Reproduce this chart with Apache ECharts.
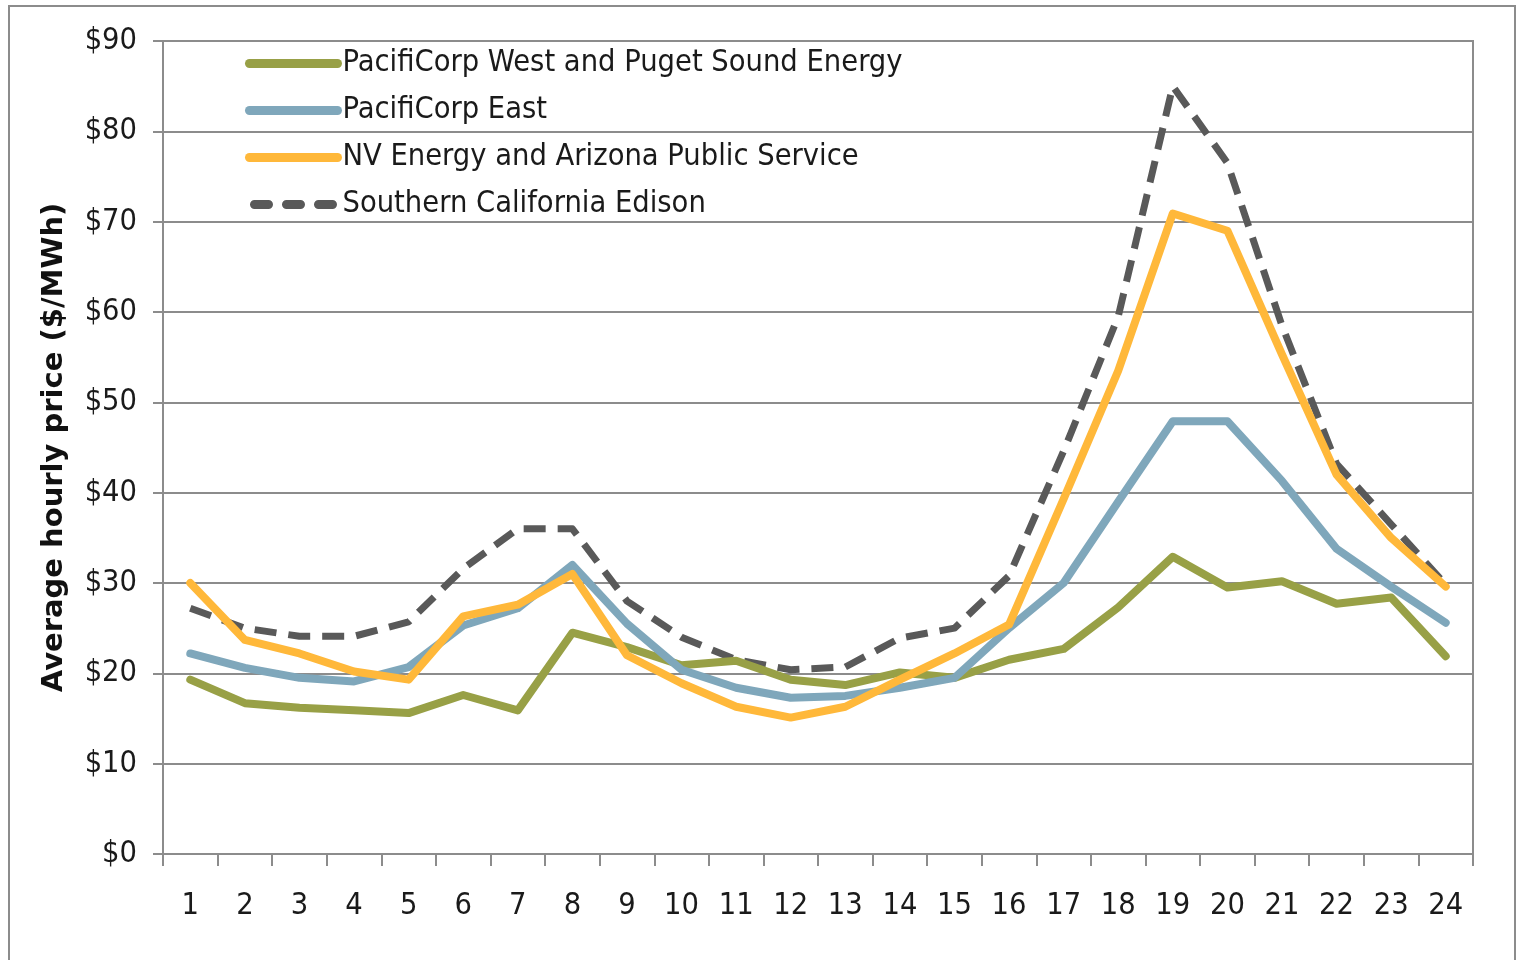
<!DOCTYPE html>
<html>
<head>
<meta charset="utf-8">
<script src="https://cdn.jsdelivr.net/npm/echarts@6/dist/echarts.min.js"></script>
<style>
    html, body { margin: 0; padding: 0; background: #fff; }
    #chart { width: 1518px; height: 960px; }
</style>
</head>
<body>
<div id="chart"></div>
<script>
    // hours of the day
    var hours = ['1','2','3','4','5','6','7','8','9','10','11','12','13','14','15','16','17','18','19','20','21','22','23','24'];
    var seriesNames = ['PacifiCorp West and Puget Sound Energy', 'PacifiCorp East', 'NV Energy and Arizona Public Service', 'Southern California Edison'];
    // average hourly price, $/MWh
    var pacWest = [19.3, 16.7, 16.2, 15.9, 15.6, 17.6, 15.9, 24.5, 22.9, 20.9, 21.4, 19.3, 18.7, 20.1, 19.5, 21.5, 22.7, 27.3, 32.9, 29.5, 30.2, 27.7, 28.4, 21.9];
    var pacEast = [22.2, 20.6, 19.5, 19.1, 20.7, 25.3, 27.2, 32.0, 25.5, 20.4, 18.4, 17.3, 17.5, 18.4, 19.5, 25.0, 30.0, 39.0, 47.9, 47.9, 41.3, 33.8, 29.6, 25.6];
    var nvAps = [30.0, 23.7, 22.2, 20.2, 19.3, 26.3, 27.6, 31.0, 22.0, 18.9, 16.3, 15.1, 16.3, 19.3, 22.2, 25.4, 39.3, 53.5, 70.9, 69.0, 55.3, 42.0, 35.0, 29.6];
    var sce = [27.2, 25.0, 24.1, 24.1, 25.7, 31.6, 36.0, 36.0, 28.0, 24.0, 21.5, 20.4, 20.7, 23.9, 25.0, 30.8, 44.6, 59.5, 85.0, 76.5, 58.5, 43.2, 36.5, 29.8];
    var yTicks = [0, 10, 20, 30, 40, 50, 60, 70, 80, 90];

    var font = 'DejaVu Sans Condensed';
    var colors = ['#98a046', '#7fa7bb', '#ffb83a', '#595959'];

    var myChart = echarts.init(document.getElementById('chart'));

    function line(name, data, color, dashed) {
        return {
            name: name,
            type: 'line',
            data: data,
            symbol: 'none',
            smooth: false,
            lineStyle: {
                color: color,
                width: dashed ? 7 : 8,
                type: dashed ? [22, 12] : 'solid',
                cap: dashed ? 'butt' : 'round',
                join: 'round'
            },
            itemStyle: { color: color },
            z: dashed ? 1 : 2
        };
    }

    var option = {
        animation: false,
        backgroundColor: '#fff',
        textStyle: { fontFamily: font },
        graphic: [{
            type: 'rect',
            shape: { x: 9, y: 6, width: 1506, height: 960 },
            style: { fill: 'none', stroke: '#8c8c8c', lineWidth: 2 },
            silent: true
        }],
        grid: { left: 163, right: 45, top: 41, bottom: 106, show: true, borderColor: '#8c8c8c', borderWidth: 2 },
        legend: {
            orient: 'vertical',
            left: 240,
            top: 43,
            itemWidth: 88,
            itemHeight: 10,
            itemGap: 16,
            itemStyle: { opacity: 0 },
            lineStyle: { width: 9, cap: 'round' },
            data: [
                { name: seriesNames[0] },
                { name: seriesNames[1] },
                { name: seriesNames[2] },
                { name: seriesNames[3], lineStyle: { width: 9, type: [14, 18], cap: 'round', dashOffset: -5 } }
            ],
            textStyle: { fontFamily: font, fontSize: 30.5, color: '#1a1a1a', padding: [0, 0, 0, 0] }
        },
        xAxis: {
            type: 'category',
            data: hours,
            boundaryGap: true,
            axisLine: { lineStyle: { color: '#8c8c8c', width: 2 } },
            axisTick: { show: true, length: 12, alignWithLabel: false, lineStyle: { color: '#8c8c8c', width: 2 } },
            axisLabel: { fontFamily: font, fontSize: 30.5, color: '#1a1a1a', margin: 37 },
            splitLine: { show: false }
        },
        yAxis: {
            type: 'value',
            min: yTicks[0],
            max: yTicks[yTicks.length - 1],
            interval: yTicks[1] - yTicks[0],
            name: 'Average hourly price ($/MWh)',
            nameLocation: 'middle',
            nameGap: 94,
            nameTextStyle: { fontFamily: 'DejaVu Sans', fontSize: 29, fontWeight: 'bold', color: '#111' },
            axisLine: { show: true, lineStyle: { color: '#8c8c8c', width: 2 } },
            axisTick: { show: true, length: 10, lineStyle: { color: '#8c8c8c', width: 2 } },
            axisLabel: { fontFamily: font, fontSize: 30.5, color: '#1a1a1a', margin: 26, formatter: '${value}' },
            splitLine: { show: true, lineStyle: { color: '#8c8c8c', width: 2 } }
        },
        series: [
            line(seriesNames[0], pacWest, colors[0], false),
            line(seriesNames[1], pacEast, colors[1], false),
            line(seriesNames[2], nvAps, colors[2], false),
            line(seriesNames[3], sce, colors[3], true)
        ]
    };
    myChart.setOption(option);
</script>
</body>
</html>
